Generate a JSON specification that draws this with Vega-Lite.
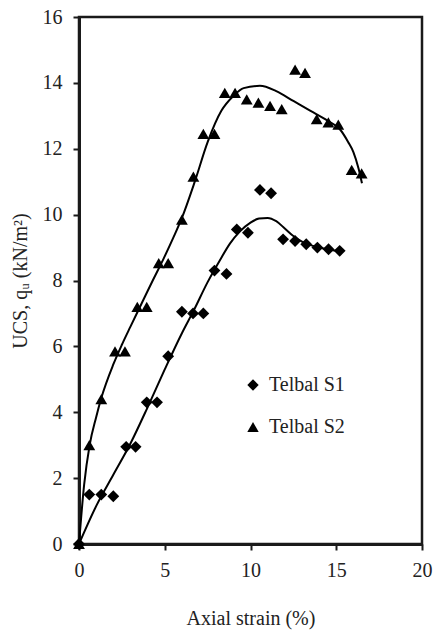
{
  "$schema": "https://vega.github.io/schema/vega-lite/v6.json",
  "width": 343,
  "height": 527,
  "autosize": {"type": "none"},
  "padding": {"left": 79, "top": 17, "right": 15, "bottom": 91},
  "background": "white",
  "config": {
    "font": "Liberation Serif",
    "view": {"stroke": "#1a1a1a", "strokeWidth": 2.5}
  },
  "datasets": {
    "pts": [
      {"series": "Telbal S1", "x": 0, "y": 0},
      {"series": "Telbal S1", "x": 0.6, "y": 1.5},
      {"series": "Telbal S1", "x": 1.3, "y": 1.5},
      {"series": "Telbal S1", "x": 2.0, "y": 1.45},
      {"series": "Telbal S1", "x": 2.75, "y": 2.95},
      {"series": "Telbal S1", "x": 3.3, "y": 2.95},
      {"series": "Telbal S1", "x": 3.95, "y": 4.3},
      {"series": "Telbal S1", "x": 4.55, "y": 4.3},
      {"series": "Telbal S1", "x": 5.2, "y": 5.7},
      {"series": "Telbal S1", "x": 6.0, "y": 7.05},
      {"series": "Telbal S1", "x": 6.65, "y": 7.0},
      {"series": "Telbal S1", "x": 7.25, "y": 7.0},
      {"series": "Telbal S1", "x": 7.9, "y": 8.3},
      {"series": "Telbal S1", "x": 8.6, "y": 8.2},
      {"series": "Telbal S1", "x": 9.2, "y": 9.55},
      {"series": "Telbal S1", "x": 9.85, "y": 9.45},
      {"series": "Telbal S1", "x": 10.55, "y": 10.75},
      {"series": "Telbal S1", "x": 11.2, "y": 10.65},
      {"series": "Telbal S1", "x": 11.9, "y": 9.25},
      {"series": "Telbal S1", "x": 12.6, "y": 9.2},
      {"series": "Telbal S1", "x": 13.25, "y": 9.1},
      {"series": "Telbal S1", "x": 13.9, "y": 9.0},
      {"series": "Telbal S1", "x": 14.55, "y": 8.95},
      {"series": "Telbal S1", "x": 15.2, "y": 8.9},
      {"series": "Telbal S2", "x": 0, "y": 0},
      {"series": "Telbal S2", "x": 0.6, "y": 3.0},
      {"series": "Telbal S2", "x": 1.3, "y": 4.4},
      {"series": "Telbal S2", "x": 2.1, "y": 5.85},
      {"series": "Telbal S2", "x": 2.68, "y": 5.85},
      {"series": "Telbal S2", "x": 3.4, "y": 7.2},
      {"series": "Telbal S2", "x": 3.95, "y": 7.2},
      {"series": "Telbal S2", "x": 4.65, "y": 8.53},
      {"series": "Telbal S2", "x": 5.2, "y": 8.53},
      {"series": "Telbal S2", "x": 6.0, "y": 9.85},
      {"series": "Telbal S2", "x": 6.67, "y": 11.15},
      {"series": "Telbal S2", "x": 7.25, "y": 12.45},
      {"series": "Telbal S2", "x": 7.9, "y": 12.45},
      {"series": "Telbal S2", "x": 8.5, "y": 13.7},
      {"series": "Telbal S2", "x": 9.1, "y": 13.7},
      {"series": "Telbal S2", "x": 9.78, "y": 13.5},
      {"series": "Telbal S2", "x": 10.46, "y": 13.4},
      {"series": "Telbal S2", "x": 11.14, "y": 13.3},
      {"series": "Telbal S2", "x": 11.82, "y": 13.2},
      {"series": "Telbal S2", "x": 12.6, "y": 14.4},
      {"series": "Telbal S2", "x": 13.18, "y": 14.3},
      {"series": "Telbal S2", "x": 13.86, "y": 12.9},
      {"series": "Telbal S2", "x": 14.54, "y": 12.8},
      {"series": "Telbal S2", "x": 15.12, "y": 12.73},
      {"series": "Telbal S2", "x": 15.9, "y": 11.36},
      {"series": "Telbal S2", "x": 16.48, "y": 11.25}
    ],
    "fit": [
      {"series": "Telbal S1", "x": 0, "y": 0},
      {"series": "Telbal S1", "x": 1, "y": 1.15},
      {"series": "Telbal S1", "x": 2, "y": 2.1},
      {"series": "Telbal S1", "x": 3, "y": 3.05},
      {"series": "Telbal S1", "x": 4, "y": 4.15},
      {"series": "Telbal S1", "x": 5, "y": 5.3},
      {"series": "Telbal S1", "x": 6, "y": 6.4},
      {"series": "Telbal S1", "x": 6.7, "y": 7.1},
      {"series": "Telbal S1", "x": 7.5, "y": 7.95},
      {"series": "Telbal S1", "x": 8.2, "y": 8.6},
      {"series": "Telbal S1", "x": 8.8, "y": 9.12},
      {"series": "Telbal S1", "x": 9.4, "y": 9.5},
      {"series": "Telbal S1", "x": 10, "y": 9.76},
      {"series": "Telbal S1", "x": 10.5, "y": 9.88},
      {"series": "Telbal S1", "x": 11, "y": 9.9},
      {"series": "Telbal S1", "x": 11.5, "y": 9.8},
      {"series": "Telbal S1", "x": 12, "y": 9.58},
      {"series": "Telbal S1", "x": 12.5, "y": 9.35},
      {"series": "Telbal S1", "x": 13, "y": 9.18},
      {"series": "Telbal S1", "x": 14, "y": 9.0},
      {"series": "Telbal S1", "x": 15, "y": 8.9},
      {"series": "Telbal S2", "x": 0, "y": 0},
      {"series": "Telbal S2", "x": 0.3, "y": 1.8},
      {"series": "Telbal S2", "x": 0.62, "y": 3.0},
      {"series": "Telbal S2", "x": 1.0, "y": 3.85},
      {"series": "Telbal S2", "x": 1.3, "y": 4.43},
      {"series": "Telbal S2", "x": 2.0, "y": 5.45},
      {"series": "Telbal S2", "x": 2.5, "y": 6.05},
      {"series": "Telbal S2", "x": 3.0, "y": 6.6},
      {"series": "Telbal S2", "x": 3.65, "y": 7.3},
      {"series": "Telbal S2", "x": 4.3, "y": 8.0},
      {"series": "Telbal S2", "x": 4.92, "y": 8.65},
      {"series": "Telbal S2", "x": 5.5, "y": 9.3},
      {"series": "Telbal S2", "x": 6.0, "y": 9.9},
      {"series": "Telbal S2", "x": 6.75, "y": 11.0},
      {"series": "Telbal S2", "x": 7.5, "y": 12.2},
      {"series": "Telbal S2", "x": 8.3, "y": 13.15},
      {"series": "Telbal S2", "x": 9.0, "y": 13.6},
      {"series": "Telbal S2", "x": 9.6, "y": 13.84},
      {"series": "Telbal S2", "x": 10.55, "y": 13.91},
      {"series": "Telbal S2", "x": 11.5, "y": 13.75},
      {"series": "Telbal S2", "x": 12.5, "y": 13.45},
      {"series": "Telbal S2", "x": 13.5, "y": 13.15},
      {"series": "Telbal S2", "x": 14.5, "y": 12.85},
      {"series": "Telbal S2", "x": 15.2, "y": 12.6},
      {"series": "Telbal S2", "x": 15.7, "y": 12.2},
      {"series": "Telbal S2", "x": 16.0, "y": 11.9},
      {"series": "Telbal S2", "x": 16.3, "y": 11.4},
      {"series": "Telbal S2", "x": 16.5, "y": 10.95}
    ]
  },
  "encoding": {
    "x": {
      "field": "x", "type": "quantitative",
      "scale": {"domain": [0, 20], "nice": false, "zero": false},
      "axis": {
        "values": [0, 5, 10, 15, 20], "title": "Axial strain (%)",
        "domain": true, "domainColor": "#1a1a1a", "domainWidth": 3,
        "ticks": true, "tickColor": "#1a1a1a", "tickWidth": 2, "tickSize": 6,
        "grid": false, "labelFlush": false, "labelOverlap": false,
        "labelFont": "Liberation Serif", "labelFontSize": 20, "labelColor": "#222222",
        "titleFont": "Liberation Serif", "titleFontSize": 20, "titleColor": "#222222", "titleFontWeight": "normal",
        "labelPadding": 10, "titlePadding": 28
      }
    },
    "y": {
      "field": "y", "type": "quantitative",
      "scale": {"domain": [0, 16], "nice": false, "zero": false},
      "axis": {
        "values": [0, 2, 4, 6, 8, 10, 12, 14, 16], "title": "UCS, qᵤ (kN/m²)",
        "domain": true, "domainColor": "#1a1a1a", "domainWidth": 3,
        "ticks": true, "tickColor": "#1a1a1a", "tickWidth": 2, "tickSize": 6,
        "grid": false, "labelFlush": false, "labelOverlap": false,
        "labelFont": "Liberation Serif", "labelFontSize": 20, "labelColor": "#222222",
        "titleFont": "Liberation Serif", "titleFontSize": 20, "titleColor": "#222222", "titleFontWeight": "normal",
        "labelPadding": 11, "titlePadding": 12
      }
    }
  },
  "layer": [
    {
      "data": {"name": "fit"},
      "mark": {"type": "line", "color": "black", "strokeWidth": 2, "interpolate": "monotone"},
      "encoding": {"detail": {"field": "series"}}
    },
    {
      "data": {"name": "pts"},
      "mark": {"type": "point", "filled": true, "color": "black", "opacity": 1, "size": 140},
      "encoding": {
        "shape": {
          "field": "series", "type": "nominal",
          "scale": {"domain": ["Telbal S1", "Telbal S2"], "range": ["diamond", "triangle-up"]},
          "legend": {
            "title": null, "orient": "none", "legendX": 164, "legendY": 358,
            "padding": 0, "symbolSize": 130, "symbolFillColor": "black", "symbolStrokeColor": "black",
            "symbolOpacity": 1, "labelFont": "Liberation Serif", "labelFontSize": 20, "labelColor": "#222222",
            "labelOffset": 6, "rowPadding": 22
          }
        }
      }
    }
  ]
}
